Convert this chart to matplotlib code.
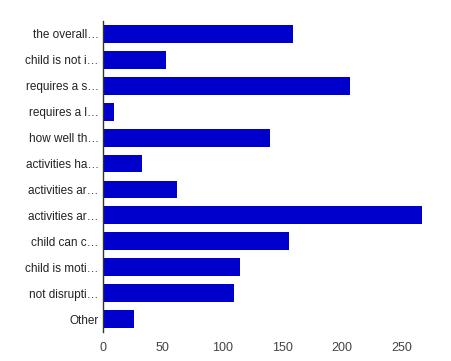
import matplotlib
matplotlib.use("Agg")
from matplotlib import pyplot as plt

labels = ["the overall\u2026", "child is not i\u2026", "requires a s\u2026",
          "requires a l\u2026", "how well th\u2026", "activities ha\u2026",
          "activities ar\u2026", "activities ar\u2026", "child can c\u2026",
          "child is moti\u2026", "not disrupti\u2026", "Other"]
values = [159, 53, 207, 9, 140, 33, 62, 267, 156, 115, 110, 26]
xticks = [0, 50, 100, 150, 200, 250]

plt.rcParams["font.family"] = ["Liberation Sans", "DejaVu Sans"]

fig = plt.figure(figsize=(4.51, 3.61), dpi=100)
ax = fig.add_axes([0.2284, 0.0803, 0.7472, 0.8615])

pos = list(range(len(labels)))
ax.barh(pos, values, height=0.69, color="#0000cc")

ax.set_ylim(len(labels) - 0.5, -0.5)
ax.set_xlim(0, 282)
ax.set_yticks(pos)
ax.set_yticklabels(labels, fontsize=8.5, color="#222222")
ax.set_xticks(xticks)
ax.set_xticklabels([str(t) for t in xticks], fontsize=9, color="#444444")
ax.tick_params(length=0)
ax.tick_params(axis="y", pad=3)
ax.tick_params(axis="x", pad=7)

for s in ["top", "right", "bottom"]:
    ax.spines[s].set_visible(False)
ax.spines["left"].set_color("#333333")
ax.spines["left"].set_linewidth(1)

fig.savefig("out.png", dpi=100)
